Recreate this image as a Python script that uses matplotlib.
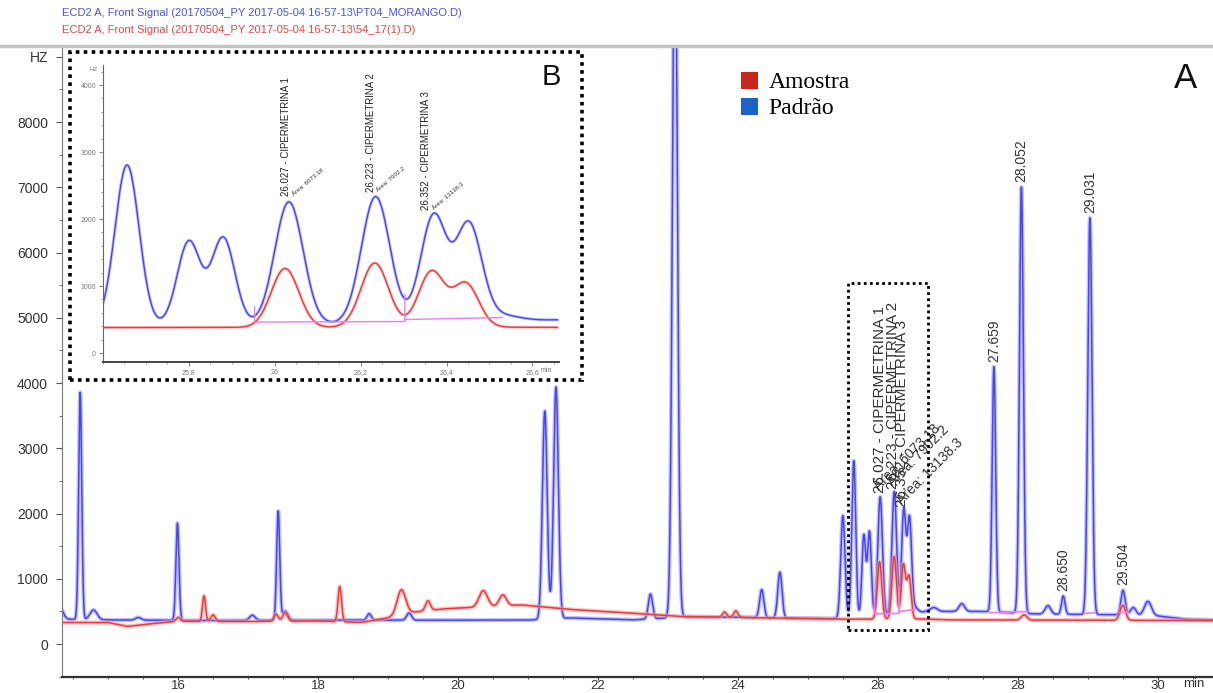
import numpy as np
import matplotlib
matplotlib.use("Agg")
import matplotlib.pyplot as plt
from matplotlib.patches import Rectangle, Patch
from matplotlib.lines import Line2D
from matplotlib.ticker import MultipleLocator

plt.rcParams['font.family'] = ['Liberation Sans', 'DejaVu Sans']

# ---- data ----
header_blue = r"ECD2 A, Front Signal (20170504_PY 2017-05-04 16-57-13\PT04_MORANGO.D)"
header_red = r"ECD2 A, Front Signal (20170504_PY 2017-05-04 16-57-13\54_17(1).D)"
legend_labels = ["Amostra", "Padrão"]

# Padrão (blue): baseline points and peak table (rt, height above baseline, width)
blue_base_t = [14.34, 15.0, 16.5, 18.0, 21.0, 21.6, 22.5, 23.3, 25.3, 26.1, 26.7, 27.5, 28.3, 29.3, 30.0, 30.4, 30.8]
blue_base_v = [380, 370, 360, 365, 367, 400, 370, 420, 390, 430, 500, 500, 460, 450, 430, 380, 370]
blue_rt = [14.30, 14.60, 14.79, 15.43, 15.99, 17.06, 17.43, 17.53, 18.73, 19.30,
           21.24, 21.40, 22.75, 23.10, 24.34, 24.60, 25.50, 25.656, 25.80, 25.88,
           26.033, 26.235, 26.37, 26.452, 26.53, 26.80, 27.20, 27.659, 28.052, 28.43,
           28.65, 29.031, 29.504, 29.65, 29.86]
blue_amp = [200, 3480, 150, 40, 1490, 80, 1670, 140, 100, 110,
            3190, 3550, 380, 11000, 430, 700, 1570, 2400, 1250, 1300,
            1830, 1890, 1590, 1450, 80, 60, 120, 3760, 6530, 130,
            280, 6080, 380, 120, 220]
blue_sig = [0.05, 0.022, 0.05, 0.04, 0.022, 0.04, 0.022, 0.04, 0.03, 0.035,
            0.034, 0.034, 0.03, 0.035, 0.03, 0.03, 0.03, 0.028, 0.027, 0.027,
            0.033, 0.033, 0.03, 0.03, 0.04, 0.05, 0.04, 0.025, 0.028, 0.04,
            0.025, 0.03, 0.03, 0.04, 0.05]

# Amostra (red)
red_base_t = [14.34, 15.0, 15.27, 15.6, 16.0, 17.0, 18.0, 18.6, 18.95, 19.3, 19.8, 20.2, 20.9, 21.2,
              21.6, 22.4, 23.2, 24.5, 25.5, 26.6, 27.0, 30.8]
red_base_v = [330, 330, 270, 310, 350, 345, 355, 330, 390, 480, 540, 560, 600, 570,
              530, 480, 420, 400, 380, 385, 370, 360]
red_rt = [16.00, 16.37, 16.50, 17.40, 17.53, 18.31, 19.19, 19.57, 20.36, 20.64,
          23.81, 23.97, 26.024, 26.233, 26.365, 26.445, 28.09, 29.50]
red_amp = [60, 390, 100, 110, 130, 540, 380, 150, 250, 170,
           80, 100, 880, 960, 830, 650, 80, 230]
red_sig = [0.03, 0.022, 0.03, 0.03, 0.035, 0.025, 0.06, 0.035, 0.06, 0.05,
           0.03, 0.03, 0.032, 0.032, 0.03, 0.03, 0.04, 0.04]

# integrator baselines (magenta)
mag_segments_t = [[25.953, 25.953, 26.303, 26.303], [26.303, 26.53],
                  [27.60, 28.15], [28.95, 29.10], [29.45, 29.58]]
mag_segments_v = [[690, 462, 470, 870], [500, 530],
                  [480, 500], [470, 480], [480, 490]]

# labelled peaks
main_peak_rt = [27.659, 28.052, 28.650, 29.031, 29.504]
main_peak_lbl = ["27.659", "28.052", "28.650", "29.031", "29.504"]
cip_rt = [26.027, 26.223, 26.352]
cip_lbl = ["26.027 - CIPERMETRINA 1", "26.223 - CIPERMETRINA 2", "26.352 - CIPERMETRINA 3"]
cip_area = ["Área: 6073.18", "Área: 7902.2", "Área: 13138.3"]
cip_top = [2250, 2310, 2040]

c_blue = '#4646f0'
c_blue_h = '#9a9aff'
c_red = '#e63c3c'
c_red_h = '#ff9c9c'
c_mag = '#ee7cee'


def trace(t, bt, bv, rts, amps, sigs):
    y = np.interp(t, bt, bv)
    for rt, a, s in zip(rts, amps, sigs):
        y = y + a * np.exp(-0.5 * ((t - rt) / s) ** 2)
    return y


t = np.arange(14.3, 30.85, 0.002)
y_blue = trace(t, blue_base_t, blue_base_v, blue_rt, blue_amp, blue_sig)
y_red = trace(t, red_base_t, red_base_v, red_rt, red_amp, red_sig)

W, H = 1213, 693
fig = plt.figure(figsize=(W / 100, H / 100), dpi=100)


def fx(px):
    return px / W


def fy(py):
    return 1 - py / H


# ---- main chromatogram ----
ax = fig.add_axes([fx(62), fy(677), fx(1213 - 62), fy(47) - fy(677)])
ax.plot(t, y_blue, color=c_blue_h, lw=3, alpha=0.6, solid_joinstyle='round')
ax.plot(t, y_blue, color=c_blue, lw=1.1)
ax.plot(t, y_red, color=c_red_h, lw=3, alpha=0.6)
ax.plot(t, y_red, color=c_red, lw=1.1)
for st, sv in zip(mag_segments_t, mag_segments_v):
    ax.plot(st, sv, color=c_mag, lw=1.2)

ax.set_xlim(14.34, 30.79)
ax.set_ylim(-505, 9150)
ax.set_yticks(np.arange(0, 9001, 1000))
ax.set_yticklabels([str(v) for v in range(0, 9000, 1000)] + ['HZ'])
ax.yaxis.set_minor_locator(MultipleLocator(500))
ax.set_xticks(np.arange(16, 31, 2))
ax.set_xticklabels([str(v) for v in range(16, 31, 2)])
ax.xaxis.set_minor_locator(MultipleLocator(0.5))
ax.tick_params(axis='y', which='major', length=4, pad=6, labelsize=10, color='#555', labelcolor='#333')
ax.tick_params(axis='y', which='minor', length=2, color='#555')
ax.tick_params(axis='x', which='major', length=2, pad=0.5, labelsize=9.5, color='#444', labelcolor='#333')
ax.tick_params(axis='x', which='minor', length=1.5, color='#444')
for s in ['top', 'right']:
    ax.spines[s].set_visible(False)
ax.spines['left'].set_color('#777')
ax.spines['bottom'].set_color('#333')
ax.spines['bottom'].set_linewidth(1.6)
fig.text(fx(1183), fy(684), 'min', fontsize=9.5, color='#333', ha='left', va='center')

for rt, lbl in zip(main_peak_rt, main_peak_lbl):
    top = np.max(y_blue[np.abs(t - rt) < 0.05])
    ax.text(rt, top + 80, lbl, rotation=90, ha='center', va='bottom', fontsize=10, color='#333')

for rt, lbl, area, top in zip(cip_rt, cip_lbl, cip_area, cip_top):
    ax.text(rt, top + 60, lbl, rotation=90, ha='center', va='bottom', fontsize=11, color='#333')
    ax.text(rt + 0.02, top + 60, area, rotation=45, rotation_mode='anchor', ha='left', va='bottom',
            fontsize=10, color='#333')

ax.add_patch(Rectangle((25.571, 214), 26.714 - 25.571, 5527 - 214, fill=False, ec='black',
                       ls=(0, (1, 1.2)), lw=2, zorder=4))

fig.text(fx(1186), fy(78), 'A', fontsize=25, ha='center', va='center', color='#111')

leg = ax.legend(handles=[Patch(facecolor='#c8261a', edgecolor='none'), Patch(facecolor='#1a64c8', edgecolor='none')],
                labels=legend_labels, loc='upper left', bbox_to_anchor=(fx(729), fy(60)),
                bbox_transform=fig.transFigure, frameon=False, borderpad=0, handlelength=0.72,
                handleheight=0.72, handletextpad=0.45, labelspacing=0.18,
                prop={'family': 'Liberation Serif', 'size': 17})

# header
fig.text(fx(62), fy(13), header_blue, fontsize=8, color='#5050e0', va='center', ha='left')
fig.text(fx(62), fy(30), header_red, fontsize=8, color='#e04848', va='center', ha='left')
fig.add_artist(Line2D([0, 1], [fy(46), fy(46)], transform=fig.transFigure, color='#c4c4c4', lw=2.5))

# ---- inset (B) ----
fig.add_artist(Rectangle((fx(70), fy(380)), fx(582 - 70), fy(52) - fy(380), transform=fig.transFigure,
                         facecolor='white', edgecolor='black', ls=(0, (1, 1.2)), lw=2.6, zorder=3))
axi = fig.add_axes([fx(103), fy(362), fx(559 - 103), fy(65) - fy(362)], zorder=4)
axi.patch.set_alpha(0)
m = (t >= 25.6) & (t <= 26.66)
axi.plot(t[m], y_blue[m], color=c_blue_h, lw=2.2, alpha=0.6)
axi.plot(t[m], y_blue[m], color=c_blue, lw=1.0)
axi.plot(t[m], y_red[m], color=c_red_h, lw=2.2, alpha=0.6)
axi.plot(t[m], y_red[m], color=c_red, lw=1.0)
for st, sv in zip(mag_segments_t[:2], mag_segments_v[:2]):
    axi.plot(st, sv, color=c_mag, lw=1.0)
axi.set_xlim(25.6, 26.662)
axi.set_ylim(-134, 4300)
axi.set_yticks(np.arange(0, 4001, 1000))
axi.yaxis.set_minor_locator(MultipleLocator(200))
axi.set_xticks([25.8, 26.0, 26.2, 26.4, 26.6])
axi.set_xticklabels(['25,8', '26', '26,2', '26,4', '26,6'])
axi.xaxis.set_minor_locator(MultipleLocator(0.05))
axi.tick_params(which='major', length=3, pad=2, labelsize=5, color='#888', labelcolor='#777')
axi.tick_params(which='minor', length=1.5, color='#999')
for s in ['top', 'right']:
    axi.spines[s].set_visible(False)
axi.spines['left'].set_color('#666')
axi.spines['bottom'].set_color('#444')
axi.spines['bottom'].set_linewidth(1.4)
fig.text(fx(541), fy(370), 'min', fontsize=5, color='#777', ha='left', va='center', zorder=5)
axi.text(-0.012, 0.985, 'HZ', transform=axi.transAxes, fontsize=4.5, color='#777', ha='right', va='center')

for rt, lbl, area, top in zip(cip_rt, cip_lbl, cip_area, cip_top):
    axi.text(rt, top + 90, lbl, rotation=90, ha='center', va='bottom', fontsize=7, color='#222')
    axi.text(rt + 0.02, top + 90, area, rotation=40, rotation_mode='anchor', ha='left', va='bottom',
             fontsize=4.5, color='#333')

fig.text(fx(551), fy(77), 'B', fontsize=21, ha='center', va='center', color='#111', zorder=5)

plt.savefig('out.png', dpi=100)
